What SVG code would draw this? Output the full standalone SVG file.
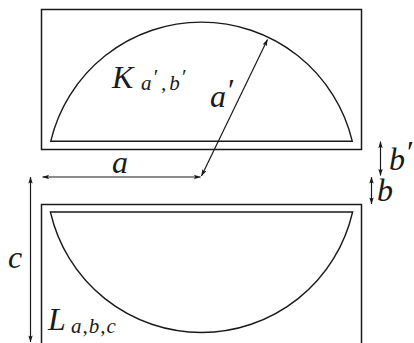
<svg xmlns="http://www.w3.org/2000/svg" width="414" height="343" viewBox="0 0 414 343">
  <style>
    .box{fill:none;stroke:#1a1a1a;stroke-width:1.5}
    .seg{fill:none;stroke:#1a1a1a;stroke-width:1.4}
    .arr{fill:none;stroke:#1a1a1a;stroke-width:1.2;marker-start:url(#ah);marker-end:url(#ah)}
    text{font-family:'Liberation Serif','DejaVu Serif',serif;font-style:italic;fill:#1a1a1a}
    .big{font-size:32px}
    .sub{font-size:21px}
  </style>
  <defs>
    <marker id="ah" viewBox="0 0 7 4.4" refX="6.6" refY="2.2" markerWidth="7" markerHeight="4.4" markerUnits="userSpaceOnUse" orient="auto-start-reverse">
      <path d="M0,0 L7,2.2 L0,4.4 L1.4,2.2 Z" fill="#1a1a1a"/>
    </marker>
  </defs>
  <rect width="414" height="343" fill="#fff"/>

  <g id="top-box">
    <rect class="box" x="41.5" y="9.5" width="320" height="140"/>
    <path class="seg" d="M50.7,141.3 A155,155 0 0 1 352.3,141.3 Z"/>
    <text class="big" x="112" y="88.3" font-size="33">K</text>
    <text class="sub" x="141" y="90">a<tspan dy="-6" dx="1">′</tspan><tspan dy="6" dx="4">,</tspan><tspan dx="3">b</tspan><tspan dy="-6" dx="1">′</tspan></text>
  </g>

  <g id="bottom-box">
    <rect class="box" x="41.5" y="204.5" width="320" height="150"/>
    <path class="seg" d="M50.4,212 A155,155 0 0 0 352.6,212 Z"/>
    <text class="big" x="48" y="329.5">L</text>
    <text class="sub" x="71" y="333.3" letter-spacing="1">a,b,c</text>
  </g>

  <g id="connectors">
    <line class="arr" x1="42.5" y1="177" x2="200.5" y2="177"/>
    <line class="arr" x1="201.5" y1="176" x2="267.5" y2="39.5"/>
    <line class="arr" x1="30.5" y1="177" x2="30.5" y2="342"/>
    <line class="arr" x1="380.5" y1="141.5" x2="380.5" y2="175.5"/>
    <line class="arr" x1="371.5" y1="177" x2="371.5" y2="204"/>
  </g>

  <g id="labels">
    <text class="big" x="112" y="172.7">a</text>
    <text class="big" x="210" y="106.7">a<tspan dy="-6">′</tspan></text>
    <text class="big" x="389" y="170">b<tspan dy="-7">′</tspan></text>
    <text class="big" x="377" y="201">b</text>
    <text class="big" x="8" y="268">c</text>
  </g>
</svg>
